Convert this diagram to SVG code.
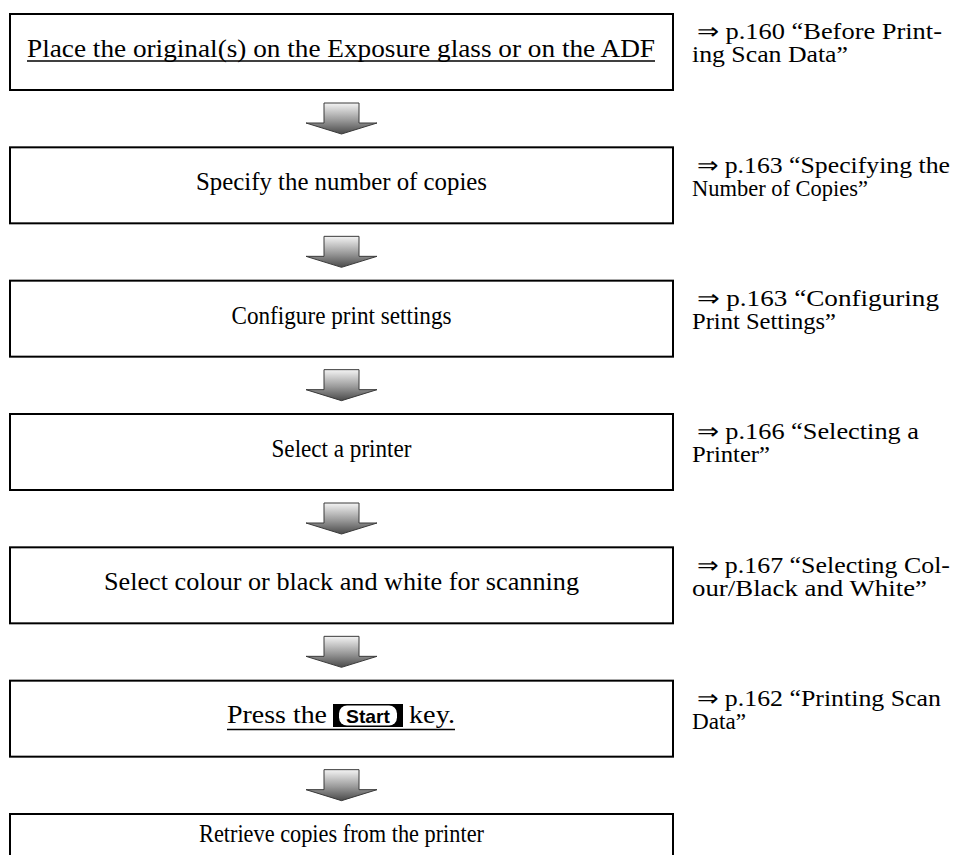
<svg xmlns="http://www.w3.org/2000/svg" width="958" height="855" viewBox="0 0 958 855">
<style>
.box{fill:#fff;stroke:#000;stroke-width:2}
.t{font-family:"Liberation Serif","Times New Roman",serif;font-size:24.5px;fill:#000}
.r{font-family:"Liberation Serif","Times New Roman",serif;font-size:23px;fill:#000}
.arr{fill:url(#g);stroke:#3a3a3a;stroke-width:1}
.ul{stroke:#000;stroke-width:1.5}
</style>
<defs>
<linearGradient id="g" x1="0" y1="0" x2="0" y2="1">
<stop offset="0" stop-color="#f4f4f4"/>
<stop offset="0.55" stop-color="#9a9a9a"/>
<stop offset="1" stop-color="#4a4a4a"/>
</linearGradient>
<path id="a" class="arr" d="M324,0 H359 V20 H377 L341.5,31 L306,20 H324 Z"/>
</defs>
<rect width="958" height="855" fill="#fff"/>
<g id="connectors">
<use href="#a" y="103"/>
<use href="#a" y="236.33"/>
<use href="#a" y="369.67"/>
<use href="#a" y="503"/>
<use href="#a" y="636.33"/>
<use href="#a" y="769.67"/>
</g>
<g id="n1">
<rect class="box" x="10" y="14" width="663" height="76"/>
<text class="t" x="27" y="57" textLength="628" lengthAdjust="spacingAndGlyphs">Place the original(s) on the Exposure glass or on the ADF</text>
<line class="ul" x1="27" y1="61" x2="655" y2="61"/>
<text class="r" x="697" y="39" textLength="245" lengthAdjust="spacingAndGlyphs">⇒ p.160 “Before Print-</text>
<text class="r" x="692" y="62" textLength="156" lengthAdjust="spacingAndGlyphs">ing Scan Data”</text>
</g>
<g id="n2">
<rect class="box" x="10" y="147.33" width="663" height="76"/>
<text class="t" x="341.5" y="190.33" text-anchor="middle" textLength="291" lengthAdjust="spacingAndGlyphs">Specify the number of copies</text>
<text class="r" x="697" y="172.5" textLength="253" lengthAdjust="spacingAndGlyphs">⇒ p.163 “Specifying the</text>
<text class="r" x="692" y="195.5" textLength="176" lengthAdjust="spacingAndGlyphs">Number of Copies”</text>
</g>
<g id="n3">
<rect class="box" x="10" y="280.67" width="663" height="76"/>
<text class="t" x="341.5" y="323.67" text-anchor="middle" textLength="220" lengthAdjust="spacingAndGlyphs">Configure print settings</text>
<text class="r" x="697" y="306" textLength="242" lengthAdjust="spacingAndGlyphs">⇒ p.163 “Configuring</text>
<text class="r" x="692" y="329" textLength="144" lengthAdjust="spacingAndGlyphs">Print Settings”</text>
</g>
<g id="n4">
<rect class="box" x="10" y="414" width="663" height="76"/>
<text class="t" x="341.5" y="457" text-anchor="middle" textLength="140" lengthAdjust="spacingAndGlyphs">Select a printer</text>
<text class="r" x="697" y="439" textLength="222" lengthAdjust="spacingAndGlyphs">⇒ p.166 “Selecting a</text>
<text class="r" x="692" y="462" textLength="78" lengthAdjust="spacingAndGlyphs">Printer”</text>
</g>
<g id="n5">
<rect class="box" x="10" y="547.33" width="663" height="76"/>
<text class="t" x="341.5" y="590.33" text-anchor="middle" textLength="475" lengthAdjust="spacingAndGlyphs">Select colour or black and white for scanning</text>
<text class="r" x="697" y="572.5" textLength="253" lengthAdjust="spacingAndGlyphs">⇒ p.167 “Selecting Col-</text>
<text class="r" x="692" y="595.5" textLength="235" lengthAdjust="spacingAndGlyphs">our/Black and White”</text>
</g>
<g id="n6">
<rect class="box" x="10" y="680.67" width="663" height="76"/>
<text class="t" x="227" y="723" textLength="100" lengthAdjust="spacingAndGlyphs">Press the</text>
<rect x="333" y="704" width="70" height="23" fill="#000"/>
<rect x="339" y="705.5" width="58" height="20" rx="8" fill="#fff"/>
<text x="368" y="722.5" text-anchor="middle" font-family="Liberation Sans,Arial,sans-serif" font-weight="bold" font-size="19" textLength="44" lengthAdjust="spacingAndGlyphs">Start</text>
<text class="t" x="409" y="723" textLength="46" lengthAdjust="spacingAndGlyphs">key.</text>
<line class="ul" x1="227" y1="729.5" x2="455" y2="729.5"/>
<text class="r" x="697" y="706" textLength="244" lengthAdjust="spacingAndGlyphs">⇒ p.162 “Printing Scan</text>
<text class="r" x="692" y="729" textLength="54" lengthAdjust="spacingAndGlyphs">Data”</text>
</g>
<g id="n7">
<rect class="box" x="10" y="814" width="663" height="76"/>
<text class="t" x="341.5" y="842" text-anchor="middle" textLength="285" lengthAdjust="spacingAndGlyphs">Retrieve copies from the printer</text>
</g>
</svg>
